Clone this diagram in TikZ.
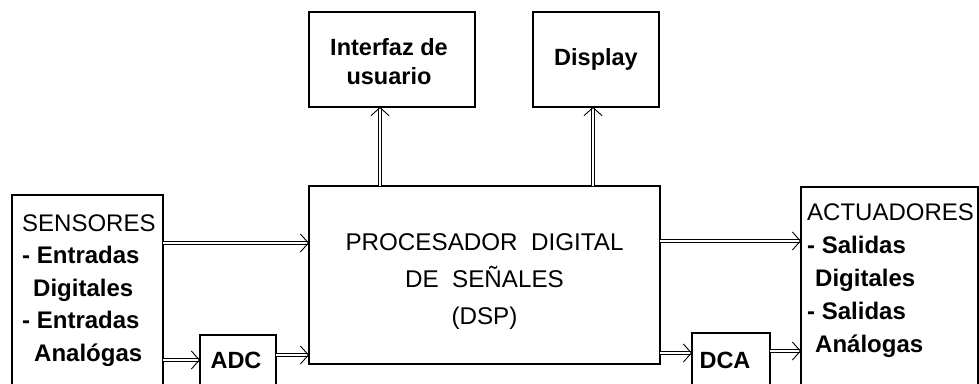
\documentclass[tikz,border=0pt]{standalone}
\usepackage{fontspec}
\setmainfont{Liberation Sans}
\usetikzlibrary{arrows.meta}
\begin{document}
\begin{tikzpicture}[x=1pt,y=-1pt,
  box/.style={draw, line width=1.3pt, inner sep=0pt, outer sep=0pt},
  conn/.style={double, double distance=2.8pt, line width=0.9pt,
    -{Straight Barb[length=8pt,width=18pt,line width=0.9pt]}},
  big/.style={font=\fontsize{24}{32.5}\selectfont\bfseries, align=left, inner sep=0pt},
  dsptext/.style={font=\fontsize{24.2}{37}\selectfont, align=center, inner sep=0pt},
  small/.style={font=\fontsize{23.5}{29}\selectfont\bfseries, align=center, inner sep=0pt},
]
\useasboundingbox (0,0) rectangle (979,383);
\clip (0,0) rectangle (979,383);
% boxes
\node[box, minimum width=166pt, minimum height=95pt] (iface) at (392,59.5) {};
\node[box, minimum width=126pt, minimum height=95pt] (disp) at (596,59.5) {};
\node[box, minimum width=351pt, minimum height=178pt] (dsp) at (484.5,275) {};
\node[box, minimum width=151pt, minimum height=210pt] (sens) at (87.5,300) {};
\node[box, minimum width=76pt, minimum height=70pt] (adc) at (238,370) {};
\node[box, minimum width=177pt, minimum height=210pt] (act) at (889.5,292) {};
\node[box, minimum width=78pt, minimum height=70pt] (dca) at (731,368) {};
% texts
\node[small] (ifacet) at (389,62) {Interfaz de\\usuario};
\node[small] (dispt) at (596,59.5) {Display};
\node[dsptext] (dspt) at (484.5,282) {PROCESADOR\ \ DIGITAL\\DE\ \ SEÑALES\\(DSP)};
\node[big, anchor=north west] (senst) at (22,214.5) {\mdseries SENSORES\\- Entradas\\\hspace*{11pt}Digitales\\- Entradas\\\hspace*{12pt}Analógas};
\node[big, anchor=north west, font=\fontsize{24}{33}\selectfont\bfseries] (actt) at (807,204) {\mdseries ACTUADORES\\- Salidas\\\hspace*{8pt}Digitales\\- Salidas\\\hspace*{8pt}Análogas};
\node[small] (adct) at (236,360) {ADC};
\node[small] (dcat) at (725,360) {DCA};
% connectors
\draw[conn] (sens.east |- 0,243) -- (dsp.west |- 0,243);
\draw[conn] (sens.east |- 0,360) -- (adc.west |- 0,360);
\draw[conn] (adc.east |- 0,355) -- (dsp.west |- 0,355);
\draw[conn] (dsp.east |- 0,241) -- (act.west |- 0,241);
\draw[conn] (dsp.east |- 0,353) -- (dca.west |- 0,353);
\draw[conn] (dca.east |- 0,351) -- (act.west |- 0,351);
\draw[conn] (dsp.north -| 380,0) -- (iface.south -| 380,0);
\draw[conn] (dsp.north -| 593,0) -- (disp.south -| 593,0);
\end{tikzpicture}
\end{document}
